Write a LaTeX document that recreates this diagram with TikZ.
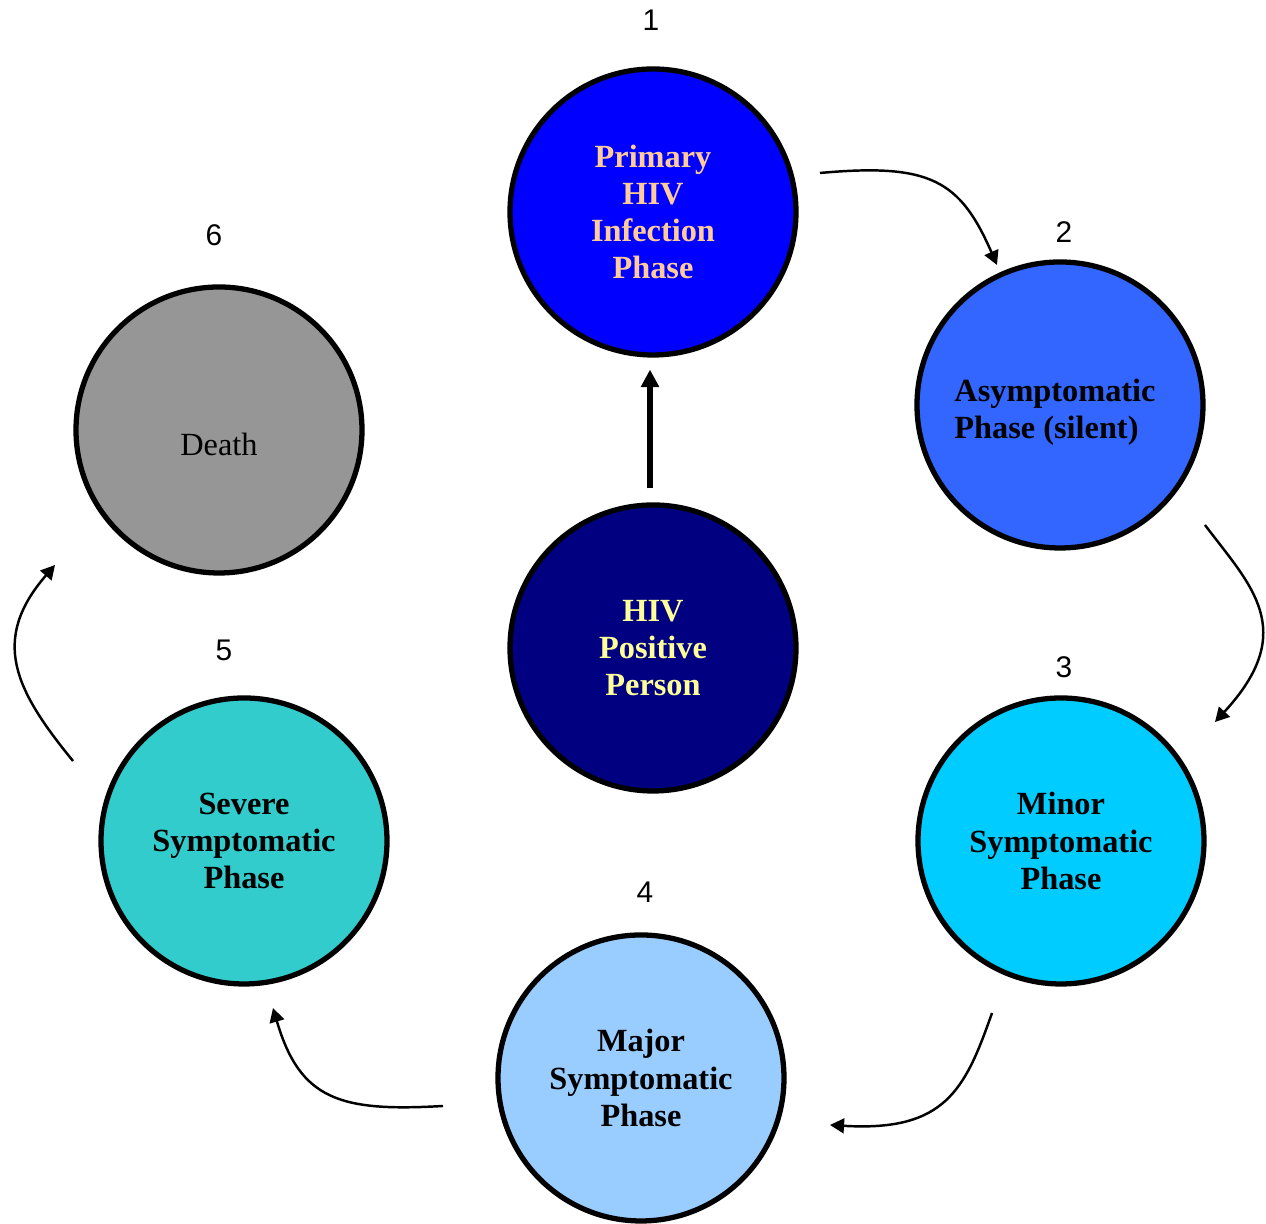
\documentclass[tikz,border=0pt]{standalone}
\usepackage{fontspec}
\setmainfont{Liberation Serif}
\newfontfamily\numfont{Liberation Sans}
\usetikzlibrary{arrows.meta, calc}
\definecolor{primaryblue}{HTML}{0000FF}
\definecolor{asymblue}{HTML}{3366FF}
\definecolor{minorcyan}{HTML}{00CCFF}
\definecolor{majorblue}{HTML}{99CCFF}
\definecolor{severeteal}{HTML}{33CCCC}
\definecolor{deathgrey}{HTML}{969696}
\definecolor{posnavy}{HTML}{000080}
\definecolor{peach}{HTML}{FFCC99}
\definecolor{paleyellow}{HTML}{FFFF99}

\begin{document}
\begin{tikzpicture}[
phase/.style = {circle, draw, line width=1.5pt, minimum size=2.86cm, inner sep=0pt, align=center,
	font=\fontsize{9.2}{10.6}\selectfont\bfseries},
num/.style = {font=\numfont\fontsize{8.5}{10}\selectfont},
flow/.style = {line width=0.7pt, -{Triangle[length=4pt, width=4.2pt]}},
bigflow/.style = {line width=1.6pt, -{Triangle[length=5pt, width=5pt]}}
]
\useasboundingbox (0, 0) rectangle (12.66, 12.24);

\node[phase, fill=primaryblue, text=peach] (primary) at (6.53, 10.12) {Primary\\HIV\\Infection\\Phase};
\node[phase, fill=asymblue] (asym) at (10.60, 8.19) {};
\node[align=left, inner sep=0pt, font=\fontsize{9.2}{10.6}\selectfont\bfseries] (asymtext) at (10.55, 8.12) {Asymptomatic\\Phase (silent)};
\node[phase, fill=minorcyan] (minor) at (10.61, 3.83) {Minor\\Symptomatic\\Phase};
\node[phase, fill=majorblue] (major) at (6.41, 1.46) {Major\\Symptomatic\\Phase};
\node[phase, fill=severeteal] (severe) at (2.44, 3.83) {Severe\\Symptomatic\\Phase};
\node[phase, fill=deathgrey] (death) at (2.19, 7.94) {};
\node[font=\fontsize{9.2}{10.6}\selectfont] (deathtext) at (2.19, 7.80) {Death};
\node[phase, fill=posnavy, text=paleyellow] (hivpos) at (6.53, 5.76) {HIV\\Positive\\Person};

\node[num] (n1) at (6.51, 12.04) {1};
\node[num] (n2) at (10.64, 9.92) {2};
\node[num] (n3) at (10.64, 5.57) {3};
\node[num] (n4) at (6.45, 3.32) {4};
\node[num] (n5) at (2.24, 5.74) {5};
\node[num] (n6) at (2.14, 9.89) {6};

\draw[bigflow] ([xshift=-0.03cm, yshift=0.14cm]hivpos.north) -- ([xshift=-0.03cm, yshift=-0.12cm]primary.south);

\draw[flow] ($(primary)+(1.67, 0.39)$) .. controls +(1.10, 0.10) and +(-0.37, 0.85) .. ($(asym)+(-0.63, 1.40)$);
\draw[flow] ($(asym)+(1.45, -1.20)$) .. controls +(0.45, -0.60) and +(0.85, 0.92) .. ($(minor)+(1.54, 1.19)$);
\draw[flow] ($(minor)+(-0.69, -1.72)$) .. controls +(-0.27, -0.77) and +(1.15, -0.07) .. ($(major)+(1.89, -0.47)$);
\draw[flow] ($(major)+(-1.98, -0.28)$) .. controls +(-1.03, -0.06) and +(0.27, -0.92) .. ($(severe)+(0.29, -1.67)$);
\draw[flow] ($(severe)+(-1.71, 0.80)$) .. controls +(-0.58, 0.71) and +(-0.65, -0.75) .. ($(death)+(-1.64, -1.35)$);
\end{tikzpicture}
\end{document}
